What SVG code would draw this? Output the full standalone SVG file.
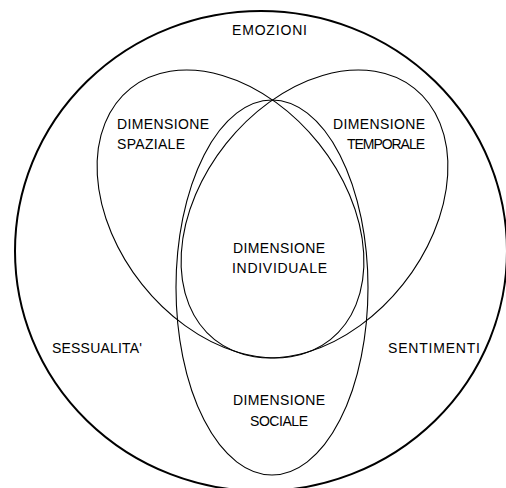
<svg xmlns="http://www.w3.org/2000/svg" width="506" height="488" viewBox="0 0 506 488">
<style>
.line{fill:none;stroke:#000;stroke-width:1.1}
.outer{fill:none;stroke:#000;stroke-width:2}
.t{font-family:"Liberation Sans",Arial,sans-serif;font-size:14px;fill:#000}
</style>
<rect width="506" height="488" fill="#fff"/>
<g id="emozioni">
<ellipse class="outer" cx="261" cy="251" rx="246" ry="240"/>
<text class="t" x="232" y="35" textLength="75" lengthAdjust="spacing">EMOZIONI</text>
</g>
<g id="spaziale">
<ellipse class="line" cx="0" cy="0" rx="160.5" ry="113" transform="translate(230.5 214) rotate(51.5)"/>
<text class="t" x="117" y="129" textLength="92" lengthAdjust="spacing">DIMENSIONE</text>
<text class="t" x="117" y="149" textLength="68" lengthAdjust="spacing">SPAZIALE</text>
</g>
<g id="temporale">
<ellipse class="line" cx="0" cy="0" rx="160.5" ry="113" transform="translate(314.5 214) rotate(-51.5)"/>
<text class="t" x="333" y="129" textLength="92" lengthAdjust="spacing">DIMENSIONE</text>
<text class="t" x="347" y="149" textLength="78" lengthAdjust="spacing">TEMPORALE</text>
</g>
<g id="individuale">
<text class="t" x="233" y="253" textLength="92" lengthAdjust="spacing">DIMENSIONE</text>
<text class="t" x="232" y="273" textLength="95" lengthAdjust="spacing">INDIVIDUALE</text>
</g>
<g id="sociale">
<ellipse class="line" cx="272" cy="287.5" rx="96" ry="187.5"/>
<text class="t" x="233" y="405" textLength="92" lengthAdjust="spacing">DIMENSIONE</text>
<text class="t" x="250" y="426" textLength="58" lengthAdjust="spacing">SOCIALE</text>
</g>
<g id="sessualita">
<text class="t" x="52" y="353" textLength="90" lengthAdjust="spacing">SESSUALITA'</text>
</g>
<g id="sentimenti">
<text class="t" x="388" y="353" textLength="92" lengthAdjust="spacing">SENTIMENTI</text>
</g>
</svg>
